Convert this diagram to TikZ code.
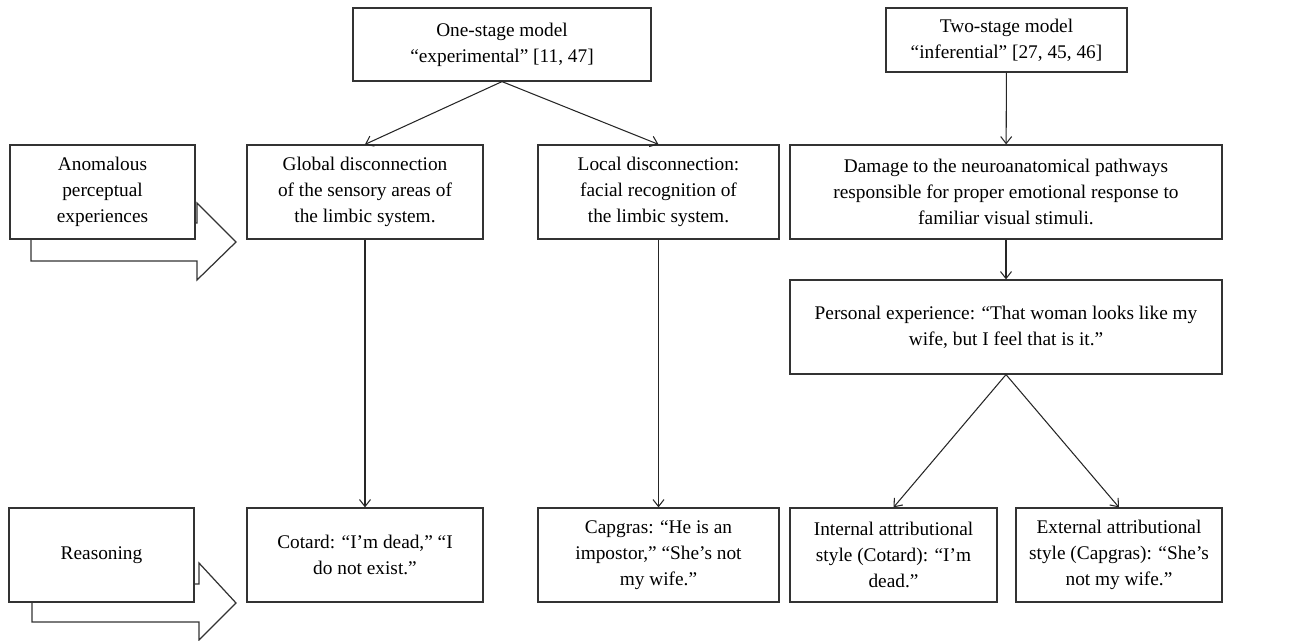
\documentclass[tikz,border=0pt]{standalone}
\usepackage{fontspec}
\setmainfont{Liberation Serif}
\usetikzlibrary{arrows.meta}
\tikzset{
	box/.style={draw=black!80, line width=0.7pt, fill=white, align=center, inner sep=2pt,
		minimum height=1.88cm, font=\fontsize{11}{14.8}\selectfont},
	link/.style={draw=black!85, line width=0.6pt, -{Straight Barb[length=1.4mm, width=2.2mm]}},
	bigarrow/.style={draw=black!80, line width=0.7pt, fill=white, line join=miter}
}

\begin{document}
\begin{tikzpicture}[x=0.02cm, y=-0.02cm]
			%%%%% START %%%%%
			\useasboundingbox (0, 0) rectangle (1295, 641);
			
			% hollow arrows behind the row labels
			\draw[bigarrow] (31, 223) -- (197, 223) -- (197, 203) -- (236, 242) -- (197, 280) -- (197, 261) -- (31, 261) -- cycle;
			\draw[bigarrow] (32, 584) -- (199, 584) -- (199, 563) -- (236, 603) -- (199, 640) -- (199, 622) -- (32, 622) -- cycle;
			
			% row labels
			\node[box, minimum width=3.7cm] (anomalous) at (102.5, 192) {Anomalous\\perceptual\\experiences};
			\node[box, minimum width=3.7cm] (reasoning) at (101.5, 555) {Reasoning};
			
			% one-stage model
			\node[box, minimum width=5.96cm, minimum height=1.46cm] (onestage) at (502, 44.5) {One-stage model\\“experimental” [11, 47]};
			\node[box, minimum width=4.72cm] (global) at (365, 192) {Global disconnection\\of the sensory areas of\\the limbic system.};
			\node[box, minimum width=4.82cm] (local) at (658.5, 192) {Local disconnection:\\facial recognition of\\the limbic system.};
			\node[box, minimum width=4.72cm] (cotard) at (365, 555) {Cotard: “I’m dead,” “I\\do not exist.”};
			\node[box, minimum width=4.82cm] (capgras) at (658.5, 555) {Capgras: “He is an\\impostor,” “She’s not\\my wife.”};
			
			% two-stage model
			\node[box, minimum width=4.82cm, minimum height=1.28cm] (twostage) at (1006.5, 40) {Two-stage model\\“inferential” [27, 45, 46]};
			\node[box, minimum width=8.64cm] (damage) at (1006, 192) {Damage to the neuroanatomical pathways\\responsible for proper emotional response to\\familiar visual stimuli.};
			\node[box, minimum width=8.64cm] (personal) at (1006, 327) {Personal experience: “That woman looks like my\\wife, but I feel that is it.”};
			\node[box, minimum width=4.14cm] (internal) at (893.5, 555) {Internal attributional\\style (Cotard): “I’m\\dead.”};
			\node[box, minimum width=4.12cm] (external) at (1119, 555) {External attributional\\style (Capgras): “She’s\\not my wife.”};
			
			% connectors
			\draw[link] (onestage.south) -- (global.north);
			\draw[link] (onestage.south) -- (local.north);
			\draw[link] (global) -- (cotard);
			\draw[link] (local) -- (capgras);
			\draw[link] (twostage) -- (damage);
			\draw[link] (damage) -- (personal);
			\draw[link] (personal.south) -- (internal.north);
			\draw[link] (personal.south) -- (external.north);
			
			%%%%% END %%%%%
\end{tikzpicture}
\end{document}
